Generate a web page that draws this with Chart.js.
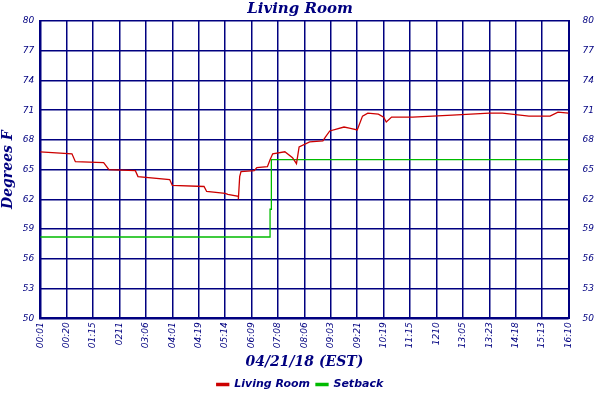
<!DOCTYPE html>
<html><head>
<script src="https://cdn.jsdelivr.net/npm/chart.js@4"></script>
<style>body{margin:0;background:#fff}#wrap{width:600px;height:400px}</style>
</head><body><div id="wrap"><canvas id="c"></canvas></div>
<script>
// ===== Data =====
const xLabels = ['00:01','00:20','01:15','0211','03:06','04:01','04:19','05:14','06:09','07:08','08:06','09:03','09:21','10:19','11:15','1210','13:05','13:23','14:18','15:13','16:10'];
const yTicks = [50,53,56,59,62,65,68,71,74,77,80];
// x positions are in label-index units (0..20)
const roomX = [0,1.2,1.33,2.4,2.6,3.6,3.7,4.9,5.0,6.2,6.3,7.0,7.1,7.5,7.5,7.55,7.6,8.1,8.2,8.6,8.7,8.8,9.26,9.55,9.7,9.8,10.2,10.7,10.8,10.96,11.5,11.7,12.0,12.2,12.4,12.8,13.0,13.1,13.3,14.1,15.6,17.0,17.5,18.5,19.3,19.6,20];
const roomY = [66.8,66.6,65.8,65.7,65.0,64.9,64.3,64.0,63.4,63.3,62.8,62.6,62.5,62.3,62.0,64.3,64.8,64.9,65.2,65.3,66.0,66.6,66.8,66.2,65.6,67.3,67.8,67.9,68.3,68.9,69.3,69.2,69.0,70.4,70.7,70.6,70.3,69.8,70.3,70.3,70.5,70.7,70.7,70.4,70.4,70.8,70.7];
const setX = [0,8.7,8.7,8.75,8.75,20];
const setY = [58.2,58.2,61,61,66.0,66.0];

const navy = '#000080';
const toPts = (xs, ys) => xs.map((x, i) => ({x, y: ys[i]}));
const font = {family: 'DejaVu Sans', style: 'italic', size: 9};

new Chart(document.getElementById('c'), {
  type: 'line',
  data: {
    datasets: [
      {label: 'Living Room', data: toPts(roomX, roomY), borderColor: '#cc0000', backgroundColor: '#cc0000', borderWidth: 1.3, pointRadius: 0},
      {label: 'Setback', data: toPts(setX, setY), borderColor: '#00bb00', backgroundColor: '#00bb00', borderWidth: 1.3, pointRadius: 0}
    ]
  },
  options: {
    animation: false, responsive: true, maintainAspectRatio: false,
    layout: {padding: {left: 0, right: 0, top: 0, bottom: 0}},
    plugins: {
      title: {display: true, text: 'Living Room', color: navy, font: {family: 'DejaVu Serif', style: 'italic', weight: 'bold', size: 15}, padding: {top: 0, bottom: 3}},
      legend: {position: 'bottom', labels: {color: navy, boxWidth: 12, boxHeight: 2, padding: 6, font: {family: 'DejaVu Sans', style: 'italic', weight: 'bold', size: 11}}}
    },
    scales: {
      x: {type: 'linear', min: 0, max: 20,
        ticks: {stepSize: 1, color: navy, font, minRotation: 90, maxRotation: 90, autoSkip: false, padding: 4, callback: v => xLabels[v]},
        grid: {color: navy, lineWidth: 1.5, drawTicks: false}, border: {color: navy, width: 2},
        title: {display: true, text: '04/21/18 (EST)', color: navy, font: {family: 'DejaVu Serif', style: 'italic', weight: 'bold', size: 14}, padding: 2}},
      y: {min: 50, max: 80, afterBuildTicks: a => { a.ticks = yTicks.map(v => ({value: v})); },
        ticks: {color: navy, font, padding: 6},
        grid: {color: navy, lineWidth: 1.5, drawTicks: false}, border: {color: navy, width: 2},
        title: {display: true, text: 'Degrees F', color: navy, font: {family: 'DejaVu Serif', style: 'italic', weight: 'bold', size: 14}, padding: 0}},
      y2: {position: 'right', min: 50, max: 80, afterBuildTicks: a => { a.ticks = yTicks.map(v => ({value: v})); },
        ticks: {color: navy, font, padding: 6}, grid: {display: false}, border: {color: navy, width: 2}}
    }
  }
});
</script></body></html>
